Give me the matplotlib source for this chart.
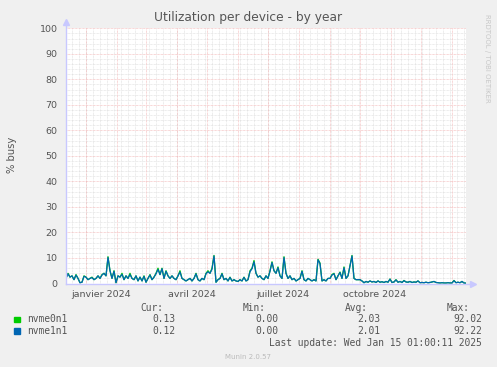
import pandas as pd
import matplotlib
matplotlib.use('Agg')
import matplotlib.pyplot as plt

# --- data: % busy, one sample every 2 days, ending at last update ---
nvme0n1 = [
    2, 4, 2.5, 3, 1.5, 3.5, 2, 0.3, 0.5, 3, 2.5, 1.5, 2, 2.5, 1.5, 2, 3, 2, 3.5, 4, 3, 10.5, 5,
    2, 5, 0.3, 3, 2.5, 4, 1.5, 3, 2, 4, 2, 1.5, 3, 1, 2.5, 1, 3, 0.5, 2, 3.5, 1.5, 2.5, 4, 6, 3.5,
    6, 2, 5, 3, 2, 3, 2, 1.5, 3, 5, 2, 1.5, 1, 1.5, 2, 1, 2, 4, 1.5, 1, 2, 1.5, 4, 5, 4, 6, 11,
    0.5, 1.5, 2, 4, 1.5, 2, 1, 2.5, 1, 1.5, 1, 0.8, 1.5, 1, 2.5, 1, 1.5, 5, 6, 9, 4, 2.5, 3,
    2, 1.5, 3, 2, 5, 8.5, 5, 4, 6.5, 3, 2, 10.5, 4, 2, 3, 1.5, 2, 1, 1.5, 2, 5, 1.5, 1, 2, 1.5,
    1, 1.5, 1, 9.5, 8,
    1, 1.5, 1, 2, 2, 3.5, 4, 1.5, 3, 4.5, 2, 6.5, 2, 3, 7, 11, 2, 1.5, 1.5, 1.5,
    1, 0.3, 0.8, 0.5, 1, 0.6, 0.8, 0.4, 1, 0.5, 0.7, 0.4, 0.8, 0.5, 1.8, 0.4, 0.6, 1.5, 0.5, 0.8,
    0.4, 1.2, 0.6, 0.5, 0.8, 0.4, 0.6, 0.5, 1, 0.3, 0.4, 0.3, 0.5, 0.3, 0.4, 0.6, 0.8, 0.4, 0.3, 0.2,
    0.3, 0.2, 0.2, 0.3, 0.2, 0.2, 1.2, 0.3, 0.5, 0.3, 0.8, 0.2, 0.13,
]
nvme1n1 = [
    2, 3.8, 2.5, 3, 1.5, 3.3, 2, 0.3, 0.5, 2.8, 2.5, 1.5, 2, 2.3, 1.5, 2, 3, 2, 3.3, 4, 3, 10.2, 5,
    2, 4.8, 0.3, 3, 2.5, 3.6, 1.5, 3, 2, 3.5, 2, 1.5, 3, 1, 2.5, 1, 2.8, 0.5, 2, 3.3, 1.5, 2.5, 3.8, 5.5, 3.5,
    5.8, 2, 4.8, 3, 2, 3, 2, 1.5, 3, 4.5, 2, 1.5, 1, 1.5, 2, 1, 2, 3.8, 1.5, 1, 2, 1.5, 3.8, 4.6, 4, 5.6, 10.8,
    0.5, 1.5, 2, 3.8, 1.5, 2, 1, 2.4, 1, 1.5, 1, 0.8, 1.5, 1, 2.4, 1, 1.5, 4.6, 5.8, 8.5, 4, 2.5, 3,
    2, 1.5, 3, 2, 4.8, 8.2, 5, 4, 6.2, 3, 2, 10.2, 4, 2, 3, 1.5, 2, 1, 1.5, 2, 4.8, 1.5, 1, 2, 1.5,
    1, 1.5, 1, 9.3, 7.8,
    1, 1.5, 1, 2, 2, 3.3, 3.8, 1.5, 3, 4.3, 2, 6.2, 2, 3, 6.8, 10.8, 2, 1.5, 1.5, 1.5,
    1, 0.3, 0.8, 0.5, 1, 0.6, 0.8, 0.4, 1, 0.5, 0.7, 0.4, 0.8, 0.5, 1.7, 0.4, 0.6, 1.4, 0.5, 0.8,
    0.4, 1.1, 0.6, 0.5, 0.8, 0.4, 0.6, 0.5, 1, 0.3, 0.4, 0.3, 0.5, 0.3, 0.4, 0.6, 0.8, 0.4, 0.3, 0.2,
    0.3, 0.2, 0.2, 0.3, 0.2, 0.2, 1.1, 0.3, 0.5, 0.3, 0.8, 0.2, 0.12,
]
series_names = ['nvme0n1', 'nvme1n1']
series_colors = ['#00CC00', '#0066B3']
stats = [  # cur, min, avg, max
    ['0.13', '0.00', '2.03', '92.02'],
    ['0.12', '0.00', '2.01', '92.22'],
]
quarter_labels = ['janvier 2024', 'avril 2024', 'juillet 2024', 'octobre 2024']
quarter_pos = ['2024-01-16', '2024-04-16', '2024-07-16', '2024-10-16']
last_update = '2025-01-15 01:00:11'

dates = pd.date_range(end='2025-01-15 01:00', periods=len(nvme0n1), freq='2D')
x_start = pd.Timestamp('2025-01-15 01:00') - pd.Timedelta(days=400)
x_end = pd.Timestamp('2025-01-15 01:00')

W, H = 497, 367
fig = plt.figure(figsize=(W / 100, H / 100), dpi=100, facecolor='#F0F0F0')
ax = fig.add_axes([66 / W, 1 - 283.5 / H, 400 / W, (283.5 - 28.3) / H])
ax.set_facecolor('white')
for s in ax.spines.values():
    s.set_visible(False)

ax.set_xlim(x_start, x_end)
ax.set_ylim(0, 100)

# grid: minor grey, major pinkish
minor_kw = dict(color='#DADADA', lw=0.5, ls=(0, (1, 1)), zorder=0)
major_kw = dict(color='#F2AFAF', lw=0.5, ls=(0, (1, 1)), zorder=1)
for y in range(2, 101, 2):
    if y % 10:
        ax.axhline(y, **minor_kw)
for d in pd.date_range(x_start, x_end, freq='W-MON'):
    ax.axvline(d, **minor_kw)
for y in range(10, 101, 10):
    ax.axhline(y, **major_kw)
for d in pd.date_range(x_start, x_end, freq='MS'):
    ax.axvline(d, **major_kw)

for vals, col in zip([nvme0n1, nvme1n1], series_colors):
    ax.plot(dates, vals, color=col, lw=0.9, zorder=3)

ax.set_yticks(range(0, 101, 10))
ax.set_yticklabels([str(v) for v in range(0, 101, 10)])
ax.set_xticks(pd.to_datetime(quarter_pos))
ax.set_xticklabels(quarter_labels)
ax.tick_params(axis='both', length=0, labelsize=6.8, labelcolor='#555555')
ax.tick_params(axis='y', pad=6)
ax.tick_params(axis='x', pad=5)

# axes with arrows
axis_col = '#C8C8FF'
ax.plot([0, 0], [0, 1.02], transform=ax.transAxes, color=axis_col, lw=1, clip_on=False, zorder=4)
ax.plot([0, 1.015], [0, 0], transform=ax.transAxes, color=axis_col, lw=1, clip_on=False, zorder=4)
ax.plot([0], [1.025], transform=ax.transAxes, marker='^', ms=4, color=axis_col, clip_on=False, zorder=4)
ax.plot([1.018], [0], transform=ax.transAxes, marker='>', ms=4, color=axis_col, clip_on=False, zorder=4)

fig.text(248 / W, 1 - 18 / H, 'Utilization per device - by year', ha='center', va='center',
         fontsize=8.8, color='#555555')
fig.text(12 / W, 1 - 155 / H, '% busy', rotation=90, ha='center', va='center',
         fontsize=7.2, color='#555555')
fig.text(487 / W, 1 - 58 / H, 'RRDTOOL / TOBI OETIKER', rotation=270, ha='center', va='center',
         fontsize=5, color='#C8C8C8')

# legend block
mono = dict(family='DejaVu Sans Mono', fontsize=6.9, color='#555555', va='center')
col_right = [163, 266, 368, 470]
val_right = [175, 278, 380, 482]
for hdr, xr in zip(['Cur:', 'Min:', 'Avg:', 'Max:'], col_right):
    fig.text(xr / W, 1 - 308 / H, hdr, ha='right', **mono)
for i, (name, col, row) in enumerate(zip(series_names, series_colors, stats)):
    yy = 319.5 + i * 11.8
    fig.patches.append(plt.Rectangle((14 / W, 1 - (yy + 2.5) / H), 5.5 / W, 5.5 / H,
                                     transform=fig.transFigure, color=col, figure=fig))
    fig.text(27 / W, 1 - yy / H, name, ha='left', **mono)
    for v, xr in zip(row, val_right):
        fig.text(xr / W, 1 - yy / H, v, ha='right', **mono)

lu = pd.Timestamp(last_update)
fig.text(482 / W, 1 - 343.3 / H, 'Last update: ' + lu.strftime('%a %b %d %H:%M:%S %Y'),
         ha='right', **mono)
fig.text(248 / W, 1 - 357 / H, 'Munin 2.0.57', ha='center', va='center',
         fontsize=5, color='#BBBBBB')

fig.savefig('out.png', dpi=100, facecolor=fig.get_facecolor())
